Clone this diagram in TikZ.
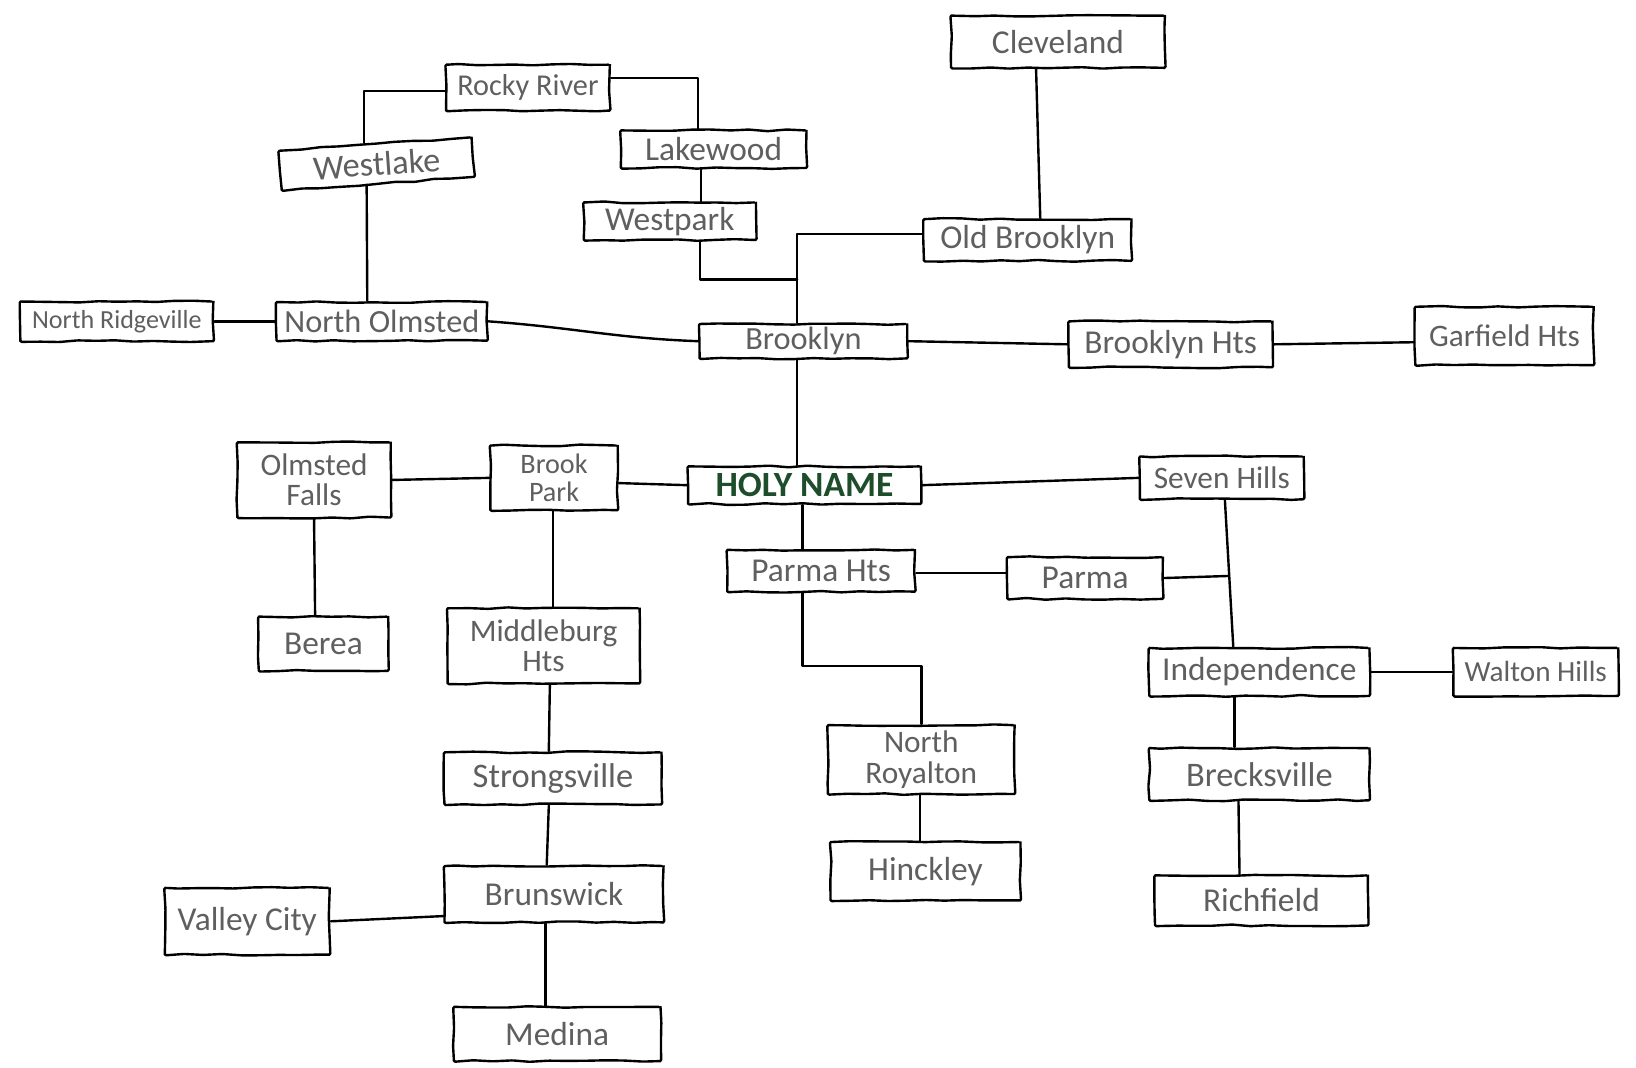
\documentclass[tikz,border=0pt]{standalone}
\usepackage{fontspec}
\setmainfont{Carlito}
\usetikzlibrary{decorations.pathmorphing,calc}
\definecolor{txt}{HTML}{5F5F5F}
\definecolor{hn}{HTML}{1E4D2B}
\begin{document}
\begin{tikzpicture}[x=1pt,y=-1pt,
  city/.style={draw=black, line width=2.3pt, line join=round, text=txt, inner sep=0pt, align=center,
    font=\fontsize{32}{26}\selectfont,
    decoration={random steps,segment length=18pt,amplitude=0.9pt}, decorate, rounded corners=1.2pt},
  fsz/.style={font=\fontsize{#1}{#1}\selectfont},
  two/.style={font=\fontsize{30}{29}\selectfont},
  link/.style={line width=2.3pt, line join=round, line cap=round},
]
\pgfmathsetseed{11}
\useasboundingbox (0,0) rectangle (1568,1023);
\fill[white] (0,0) rectangle (1568,1023);

% nodes
\node[city, minimum width=205pt, minimum height=50pt] (cleveland) at (1014,40) {Cleveland};
\node[city, fsz=29, minimum width=157pt, minimum height=44pt] (rocky) at (506,84) {Rocky River};
\node[city, fsz=33, rotate=4, minimum width=185pt, minimum height=38pt] (westlake) at (361,157) {Westlake};
\node[city, minimum width=178pt, minimum height=36pt] (lakewood) at (684,143) {Lakewood};
\node[city, minimum width=165pt, minimum height=36pt] (westpark) at (642,212) {Westpark};
\node[city, minimum width=199pt, minimum height=40pt] (oldbrooklyn) at (985,230) {Old Brooklyn};
\node[city, fsz=25, minimum width=185pt, minimum height=38pt] (ridgeville) at (112,308) {North Ridgeville};
\node[city, fsz=31, minimum width=202pt, minimum height=37pt] (nolmsted) at (366,308) {North Olmsted};
\node[city, fsz=31, minimum width=199pt, minimum height=33pt] (brooklyn) at (770,327) {Brooklyn};
\node[city, minimum width=195pt, minimum height=44pt] (brooklynhts) at (1122,330) {Brooklyn Hts};
\node[city, fsz=30, minimum width=171pt, minimum height=56pt] (garfield) at (1442,322) {Garfield Hts};
\node[city, two, minimum width=147pt, minimum height=72pt] (ofalls) at (301,460) {Olmsted\\Falls};
\node[city, font=\fontsize{27}{26}\selectfont, minimum width=122pt, minimum height=62pt] (brookpark) at (531,458) {Brook\\Park};
\node[city, text=hn, font=\fontsize{34}{34}\selectfont\bfseries, minimum width=223pt, minimum height=36pt] (holy) at (771,465) {HOLY NAME};
\node[city, fsz=30, minimum width=157pt, minimum height=41pt] (seven) at (1171,458) {Seven Hills};
\node[city, minimum width=180pt, minimum height=40pt] (parmahts) at (787,547) {Parma Hts};
\node[city, minimum width=149pt, minimum height=40pt] (parma) at (1040,554) {Parma};
\node[city, minimum width=124pt, minimum height=52pt] (berea) at (310,617) {Berea};
\node[city, two, minimum width=184pt, minimum height=72pt] (middleburg) at (521,619) {Middleburg\\Hts};
\node[city, minimum width=211pt, minimum height=46pt] (independence) at (1207,644) {Independence};
\node[city, fsz=28, minimum width=158pt, minimum height=46pt] (walton) at (1472,644) {Walton Hills};
\node[city, two, minimum width=179pt, minimum height=66pt] (royalton) at (883,728) {North\\Royalton};
\node[city, fsz=33, minimum width=208pt, minimum height=50pt] (strongsville) at (530,746) {Strongsville};
\node[city, fsz=33, minimum width=211pt, minimum height=50pt] (brecksville) at (1207,742) {Brecksville};
\node[city, minimum width=182pt, minimum height=56pt] (hinckley) at (887,835) {Hinckley};
\node[city, minimum width=204pt, minimum height=48pt] (richfield) at (1209,863) {Richfield};
\node[city, minimum width=158pt, minimum height=64pt] (valley) at (237,883) {Valley City};
\node[city, minimum width=210pt, minimum height=54pt] (brunswick) at (531,857) {Brunswick};
\node[city, minimum width=198pt, minimum height=52pt] (medina) at (534,991) {Medina};

% junction coordinates
\coordinate (jb) at (764,268);
\coordinate (js) at (1178,552);

% connectors
\draw[link] ([xshift=-21pt]cleveland.south) -- ([xshift=12pt]oldbrooklyn.north);
\draw[link] ([yshift=-3pt]rocky.west) -| ([xshift=-11pt]westlake.north);
\draw[link] ([yshift=9pt]rocky.east) -| ([xshift=-15pt]lakewood.north);
\draw[link] ([xshift=-12pt]lakewood.south) -- ([xshift=30pt]westpark.north);
\draw[link] ([xshift=29pt]westpark.south) |- (jb);
\draw[link] ([yshift=6pt]oldbrooklyn.west) -| ([xshift=-6pt]brooklyn.north);
\draw[link] ([xshift=-11pt]westlake.south) -- ([xshift=-14pt]nolmsted.north);
\draw[link] (ridgeville.east) -- (nolmsted.west);
\draw[link] (nolmsted.east) to[out=-4,in=178] (brooklyn.west);
\draw[link] (brooklyn.east) -- (brooklynhts.west);
\draw[link] (brooklynhts.east) -- ([yshift=-6pt]garfield.west);
\draw[link] ([xshift=-6pt]brooklyn.south) -- ([xshift=-7pt]holy.north);
\draw[link] ([yshift=-5pt]brookpark.east) -- (holy.west);
\draw[link] (ofalls.east) -- (brookpark.west);
\draw[link] (holy.east) -- (seven.west);
\draw[link] ([xshift=-2pt]holy.south) -- ([xshift=-18pt]parmahts.north);
\draw[link] ([yshift=-2pt]parmahts.east) -- ([yshift=-2pt]parmahts.east -| parma.west);
\draw[link] (parma.east) -- (js);
\draw[link] ([xshift=3pt]seven.south) -- ([xshift=-25pt]independence.north);
\draw[link] ([xshift=-18pt]parmahts.south) -- ++(0,70) -| (royalton.north);
\draw[link] ([xshift=-1pt]royalton.south) -- ([xshift=-5pt]hinckley.north);
\draw[link] (ofalls.south) -- ([xshift=-8pt]berea.north);
\draw[link] ([xshift=-1pt]brookpark.south) -- ([xshift=9pt]middleburg.north);
\draw[link] ([xshift=6pt]middleburg.south) -- ([xshift=-4pt]strongsville.north);
\draw[link] ([xshift=-4pt]strongsville.south) -- ([xshift=-7pt]brunswick.north);
\draw[link] ([yshift=-21pt]brunswick.west) -- (valley.east);
\draw[link] ([xshift=-8pt]brunswick.south) -- ([xshift=-11pt]medina.north);
\draw[link] (independence.east) -- (walton.west);
\draw[link] ([xshift=-24pt]independence.south) -- ([xshift=-24pt]brecksville.north);
\draw[link] ([xshift=-20pt]brecksville.south) -- ([xshift=-21pt]richfield.north);
\end{tikzpicture}
\end{document}
